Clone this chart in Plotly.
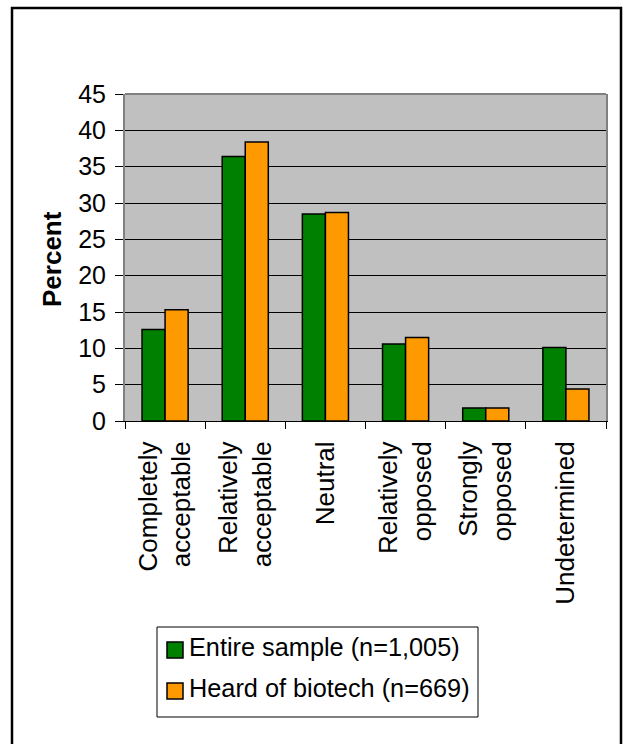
import plotly.graph_objects as go

# Survey responses: share of respondents (%) per attitude category
categories = [
    "Completely<br>acceptable",
    "Relatively<br>acceptable",
    "Neutral",
    "Relatively<br>opposed",
    "Strongly<br>opposed",
    "Undetermined",
]
entire_sample = [12.6, 36.4, 28.5, 10.6, 1.8, 10.1]
heard_of_biotech = [15.3, 38.4, 28.7, 11.5, 1.8, 4.4]
series_names = ["Entire sample (n=1,005)", "Heard of biotech (n=669)"]
series_colors = ["#008000", "#FF9900"]
y_ticks = [0, 5, 10, 15, 20, 25, 30, 35, 40, 45]

W, H = 623, 744
L, R, T, B = 125, 17, 94, 323
pw, ph = W - L - R, H - T - B

FONT = "Liberation Sans, Arial, sans-serif"
FS = 26
FS_Y = 25
FS_LEG = 25.3


def px_to_paper_x(px):
    return (px - L) / pw


def px_to_paper_y(py):
    return (H - B - py) / ph


fig = go.Figure()
for name, values, color in zip(series_names, [entire_sample, heard_of_biotech], series_colors):
    fig.add_trace(go.Bar(
        x=categories, y=values, name=name,
        marker=dict(color=color, line=dict(color="black", width=1.5)),
    ))

fig.update_layout(
    width=W, height=H,
    margin=dict(l=L, r=R, t=T, b=B, pad=0),
    paper_bgcolor="white",
    plot_bgcolor="#C0C0C0",
    barmode="group",
    bargap=0.425,
    bargroupgap=0,
    font=dict(family=FONT, size=FS, color="black"),
    showlegend=False,
    xaxis=dict(
        type="category",
        tickangle=-90,
        tickson="boundaries",
        ticks="outside", ticklen=7, tickcolor="black", tickwidth=1,
        showline=True, linecolor="black", linewidth=1,
        showgrid=False,
        ticklabelstandoff=9,
        tickfont=dict(family=FONT, size=FS, color="black"),
    ),
    yaxis=dict(
        range=[0, 45],
        tickvals=y_ticks,
        ticks="outside", ticklen=8, tickcolor="black", tickwidth=1,
        showline=True, linecolor="#808080", linewidth=2, mirror=True,
        showgrid=True, gridcolor="black", gridwidth=1,
        zeroline=False,
        ticklabelstandoff=4,
        tickfont=dict(family=FONT, size=FS_Y, color="black"),
    ),
)

# Plot-area top edge
fig.add_shape(type="line", xref="paper", yref="paper",
              x0=0, x1=1, y0=1, y1=1,
              line=dict(color="#808080", width=2))

# Outer chart frame
fig.add_shape(type="rect", xref="paper", yref="paper",
              x0=px_to_paper_x(12), x1=px_to_paper_x(621),
              y0=px_to_paper_y(760), y1=px_to_paper_y(8),
              line=dict(color="black", width=2.5),
              fillcolor="rgba(0,0,0,0)")

# Y-axis title
fig.add_annotation(
    text="<b>Percent</b>", textangle=-90,
    xref="paper", yref="paper",
    x=px_to_paper_x(52), y=px_to_paper_y(259),
    xanchor="center", yanchor="middle",
    showarrow=False,
    font=dict(family=FONT, size=FS, color="black"),
)

# Legend box with a swatch and a label per series
fig.add_shape(type="rect", xref="paper", yref="paper",
              x0=px_to_paper_x(157), x1=px_to_paper_x(478),
              y0=px_to_paper_y(717), y1=px_to_paper_y(627),
              line=dict(color="black", width=1),
              fillcolor="white")
row_centers = [650, 691]
for name, color, cy in zip(series_names, series_colors, row_centers):
    fig.add_shape(type="rect", xref="paper", yref="paper",
                  x0=px_to_paper_x(167), x1=px_to_paper_x(183),
                  y0=px_to_paper_y(cy + 8), y1=px_to_paper_y(cy - 8),
                  line=dict(color="black", width=1.5),
                  fillcolor=color)
    fig.add_annotation(
        text=name,
        xref="paper", yref="paper",
        x=px_to_paper_x(187), y=px_to_paper_y(cy - 3),
        xanchor="left", yanchor="middle",
        showarrow=False,
        font=dict(family=FONT, size=FS_LEG, color="black"),
    )

fig.write_html("out.html")
